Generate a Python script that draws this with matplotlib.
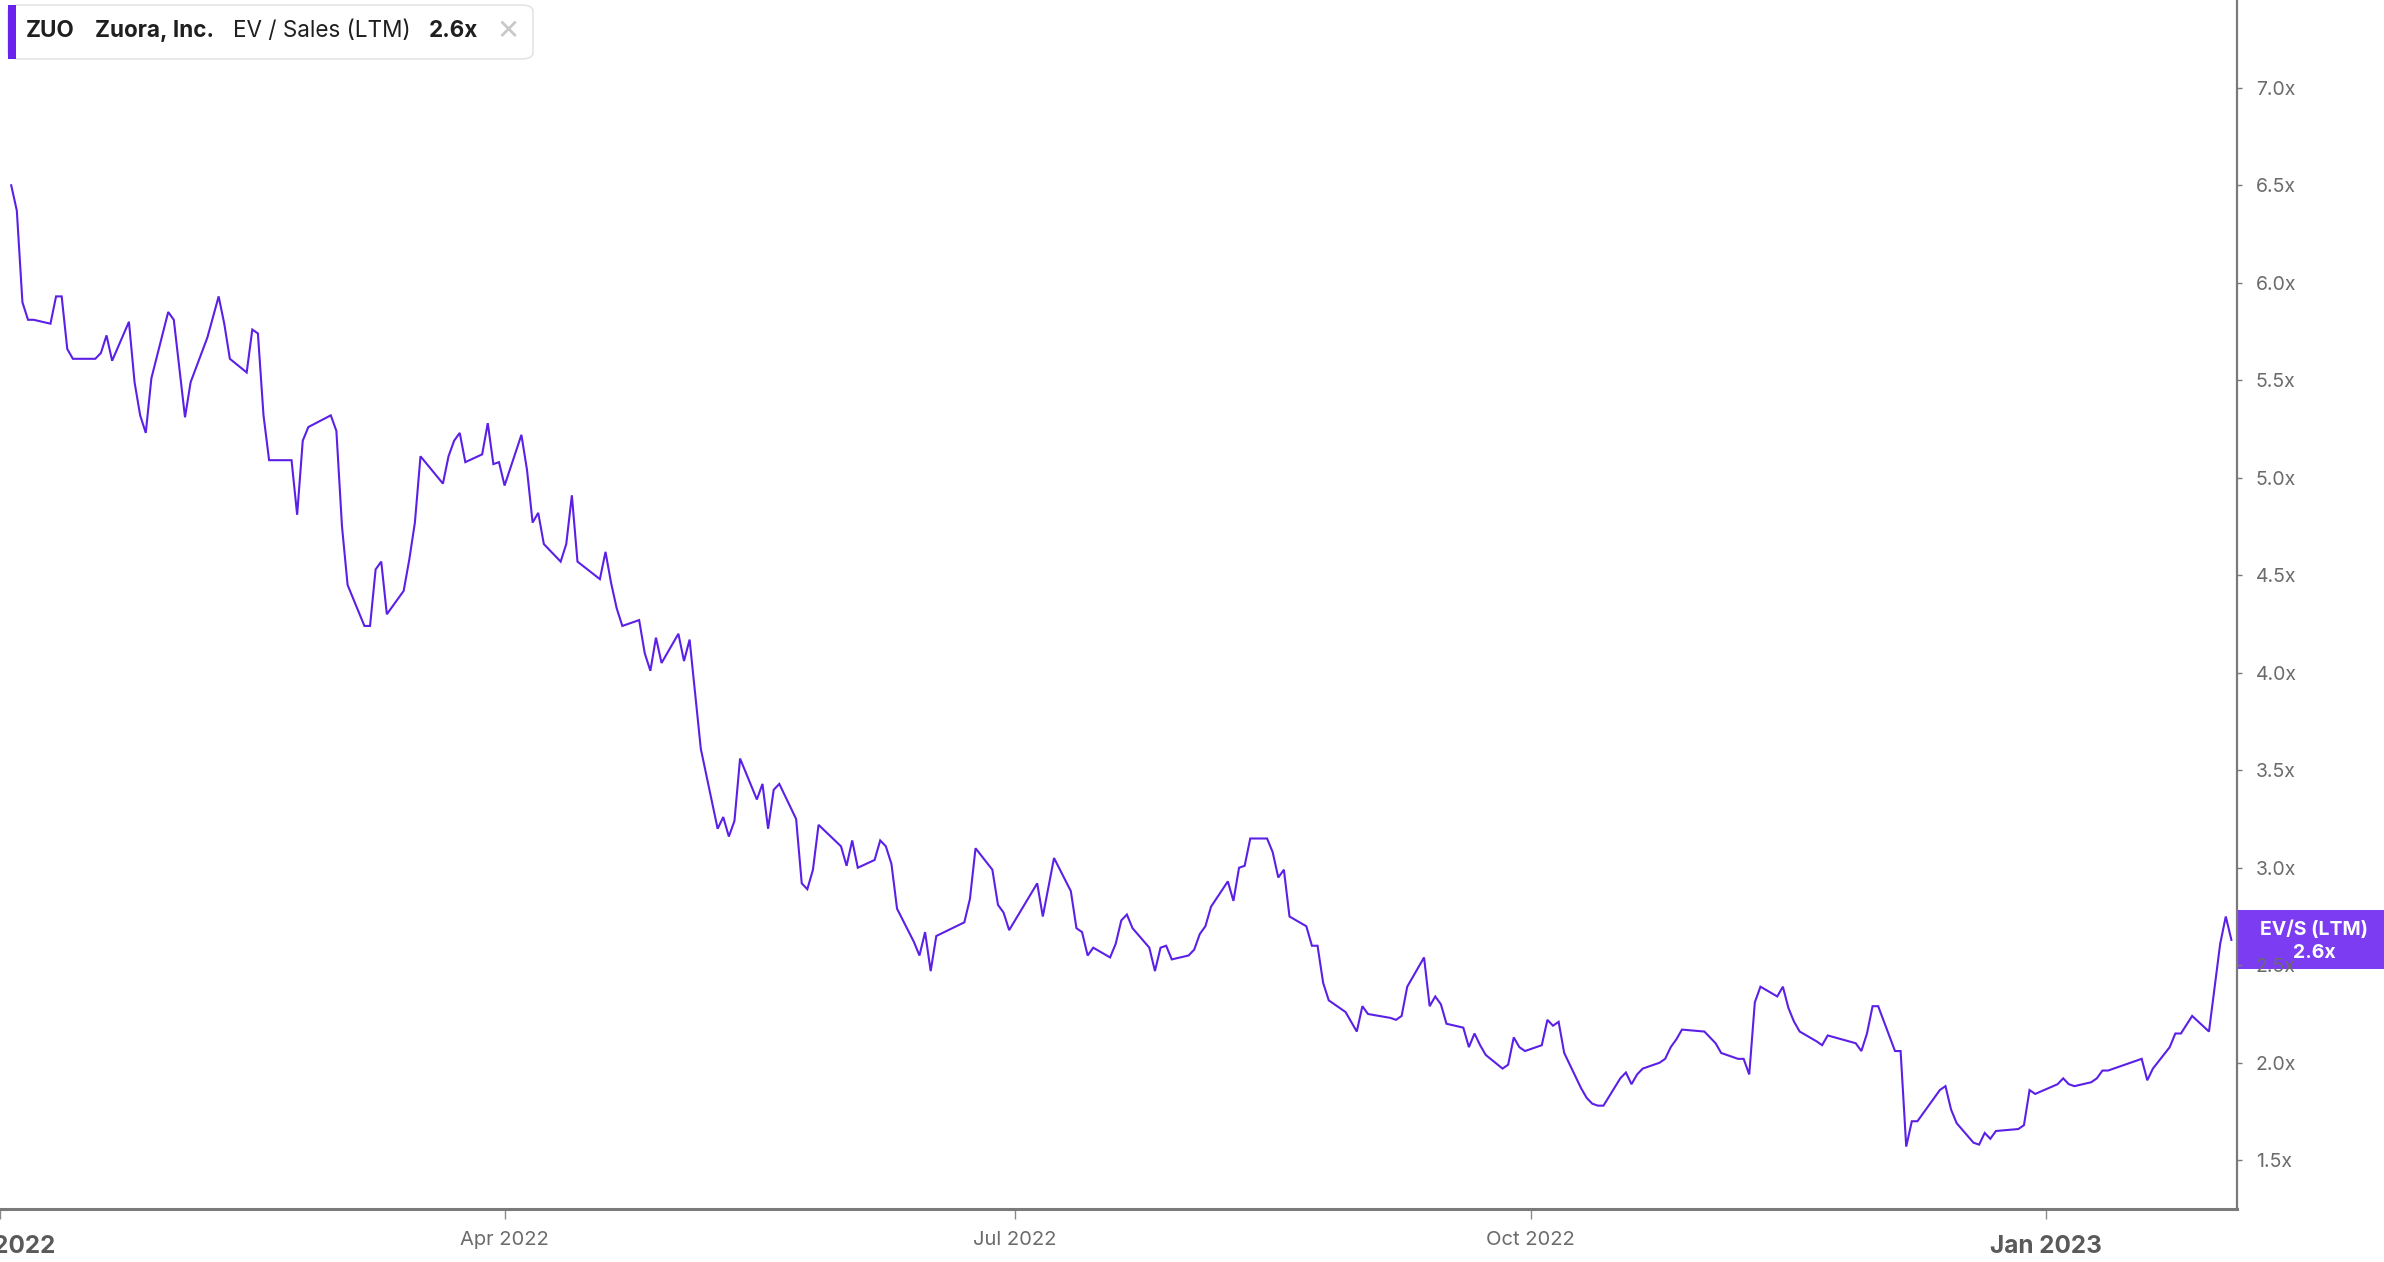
import matplotlib.pyplot as plt
from matplotlib.patches import FancyBboxPatch, Rectangle
from matplotlib.transforms import ScaledTranslation
import pandas as pd

# EV / Sales (LTM) for Zuora
dates = [
    # Jan 2022
    '2022-01-03', '2022-01-04', '2022-01-05', '2022-01-06', '2022-01-07',
    '2022-01-10', '2022-01-11', '2022-01-12', '2022-01-13', '2022-01-14',
    '2022-01-18', '2022-01-19', '2022-01-20', '2022-01-21', '2022-01-24',
    '2022-01-25', '2022-01-26', '2022-01-27', '2022-01-28', '2022-01-31',
    # Feb
    '2022-02-01', '2022-02-03', '2022-02-04', '2022-02-07', '2022-02-09',
    '2022-02-10', '2022-02-11', '2022-02-14', '2022-02-15', '2022-02-16',
    '2022-02-17', '2022-02-18', '2022-02-22', '2022-02-23', '2022-02-24',
    '2022-02-25',
    # Mar
    '2022-03-01', '2022-03-02', '2022-03-03', '2022-03-04', '2022-03-07',
    '2022-03-08', '2022-03-09', '2022-03-10', '2022-03-11', '2022-03-14',
    '2022-03-15', '2022-03-16', '2022-03-17', '2022-03-21', '2022-03-22',
    '2022-03-23', '2022-03-24', '2022-03-25', '2022-03-28', '2022-03-29',
    '2022-03-30', '2022-03-31',
    # Apr
    '2022-04-01', '2022-04-04', '2022-04-05', '2022-04-06', '2022-04-07',
    '2022-04-08', '2022-04-11', '2022-04-12', '2022-04-13', '2022-04-14',
    '2022-04-18', '2022-04-19', '2022-04-20', '2022-04-21', '2022-04-22',
    '2022-04-25', '2022-04-26', '2022-04-27', '2022-04-28', '2022-04-29',
    # May
    '2022-05-02', '2022-05-03', '2022-05-04', '2022-05-06', '2022-05-09',
    '2022-05-10', '2022-05-11', '2022-05-12', '2022-05-13', '2022-05-16',
    '2022-05-17', '2022-05-18', '2022-05-19', '2022-05-20', '2022-05-23',
    '2022-05-24', '2022-05-25', '2022-05-26', '2022-05-27', '2022-05-31',
    # Jun
    '2022-06-01', '2022-06-02', '2022-06-03', '2022-06-06', '2022-06-07',
    '2022-06-08', '2022-06-09', '2022-06-10', '2022-06-13', '2022-06-14',
    '2022-06-15', '2022-06-16', '2022-06-17', '2022-06-22', '2022-06-23',
    '2022-06-24', '2022-06-27', '2022-06-28', '2022-06-29', '2022-06-30',
    # Jul
    '2022-07-05', '2022-07-06', '2022-07-08', '2022-07-11', '2022-07-12',
    '2022-07-13', '2022-07-14', '2022-07-15', '2022-07-18', '2022-07-19',
    '2022-07-20', '2022-07-21', '2022-07-22', '2022-07-25', '2022-07-26',
    '2022-07-27', '2022-07-28', '2022-07-29',
    # Aug
    '2022-08-01', '2022-08-02', '2022-08-03', '2022-08-04', '2022-08-05',
    '2022-08-08', '2022-08-09', '2022-08-10', '2022-08-11', '2022-08-12',
    '2022-08-15', '2022-08-16', '2022-08-17', '2022-08-18', '2022-08-19',
    '2022-08-22', '2022-08-23', '2022-08-24', '2022-08-25', '2022-08-26',
    '2022-08-29', '2022-08-31',
    # Sep
    '2022-09-01', '2022-09-02', '2022-09-06', '2022-09-07', '2022-09-08',
    '2022-09-09', '2022-09-12', '2022-09-13', '2022-09-14', '2022-09-15',
    '2022-09-16', '2022-09-19', '2022-09-20', '2022-09-21', '2022-09-22',
    '2022-09-23', '2022-09-26', '2022-09-27', '2022-09-28', '2022-09-29',
    '2022-09-30',
    # Oct
    '2022-10-03', '2022-10-04', '2022-10-05', '2022-10-06', '2022-10-07',
    '2022-10-10', '2022-10-11', '2022-10-12', '2022-10-13', '2022-10-14',
    '2022-10-17', '2022-10-18', '2022-10-19', '2022-10-20', '2022-10-21',
    '2022-10-24', '2022-10-25', '2022-10-26', '2022-10-27', '2022-10-28',
    # Nov
    '2022-11-01', '2022-11-02', '2022-11-03', '2022-11-04', '2022-11-07',
    '2022-11-08', '2022-11-09', '2022-11-10', '2022-11-11', '2022-11-14',
    '2022-11-15', '2022-11-16', '2022-11-17', '2022-11-18', '2022-11-21',
    '2022-11-22', '2022-11-23', '2022-11-28', '2022-11-29', '2022-11-30',
    # Dec
    '2022-12-01', '2022-12-02', '2022-12-05', '2022-12-06', '2022-12-07',
    '2022-12-08', '2022-12-09', '2022-12-13', '2022-12-14', '2022-12-15',
    '2022-12-16', '2022-12-19', '2022-12-20', '2022-12-21', '2022-12-22',
    '2022-12-23', '2022-12-27', '2022-12-28', '2022-12-29', '2022-12-30',
    # Jan / Feb 2023
    '2023-01-03', '2023-01-04', '2023-01-05', '2023-01-06', '2023-01-09',
    '2023-01-10', '2023-01-11', '2023-01-12', '2023-01-18', '2023-01-19',
    '2023-01-20', '2023-01-23', '2023-01-24', '2023-01-25', '2023-01-27',
    '2023-01-30', '2023-02-01', '2023-02-02', '2023-02-03',
]

ev_sales = [
    # Jan 2022
    6.50, 6.37, 5.90, 5.81, 5.81, 5.79, 5.93, 5.93, 5.66, 5.61,
    5.61, 5.64, 5.73, 5.60, 5.80, 5.49, 5.32, 5.23, 5.51, 5.85,
    # Feb
    5.81, 5.31, 5.49, 5.72, 5.93, 5.79, 5.61, 5.54, 5.76, 5.74,
    5.32, 5.09, 5.09, 4.81, 5.19, 5.26,
    # Mar
    5.32, 5.24, 4.75, 4.45, 4.24, 4.24, 4.53, 4.57, 4.30, 4.42,
    4.58, 4.77, 5.11, 4.97, 5.11, 5.19, 5.23, 5.08, 5.12, 5.28,
    5.07, 5.08,
    # Apr
    4.96, 5.22, 5.04, 4.77, 4.82, 4.66, 4.57, 4.66, 4.91, 4.57,
    4.48, 4.62, 4.46, 4.33, 4.24, 4.27, 4.10, 4.01, 4.18, 4.05,
    # May
    4.20, 4.06, 4.17, 3.61, 3.20, 3.26, 3.16, 3.24, 3.56, 3.35,
    3.43, 3.20, 3.40, 3.43, 3.25, 2.92, 2.89, 2.99, 3.22, 3.11,
    # Jun
    3.01, 3.14, 3.00, 3.04, 3.14, 3.11, 3.02, 2.79, 2.62, 2.55,
    2.67, 2.47, 2.65, 2.72, 2.84, 3.10, 2.99, 2.81, 2.77, 2.68,
    # Jul
    2.92, 2.75, 3.05, 2.88, 2.69, 2.67, 2.55, 2.59, 2.54, 2.61,
    2.73, 2.76, 2.69, 2.59, 2.47, 2.59, 2.60, 2.53,
    # Aug
    2.55, 2.58, 2.66, 2.70, 2.80, 2.93, 2.83, 3.00, 3.01, 3.15,
    3.15, 3.08, 2.95, 2.99, 2.75, 2.70, 2.60, 2.60, 2.41, 2.32,
    2.26, 2.16,
    # Sep
    2.29, 2.25, 2.23, 2.22, 2.24, 2.39, 2.54, 2.29, 2.34, 2.30,
    2.20, 2.18, 2.08, 2.15, 2.09, 2.04, 1.97, 1.99, 2.13, 2.08,
    2.06,
    # Oct
    2.09, 2.22, 2.19, 2.21, 2.05, 1.87, 1.82, 1.79, 1.78, 1.78,
    1.92, 1.95, 1.89, 1.94, 1.97, 2.00, 2.02, 2.08, 2.12, 2.17,
    # Nov
    2.16, 2.13, 2.10, 2.05, 2.02, 2.02, 1.94, 2.31, 2.39, 2.34,
    2.39, 2.28, 2.21, 2.16, 2.11, 2.09, 2.14, 2.10, 2.06, 2.15,
    # Dec
    2.29, 2.29, 2.06, 2.06, 1.57, 1.70, 1.70, 1.86, 1.88, 1.76,
    1.69, 1.59, 1.58, 1.64, 1.61, 1.65, 1.66, 1.68, 1.86, 1.84,
    # Jan / Feb 2023
    1.89, 1.92, 1.89, 1.88, 1.90, 1.92, 1.96, 1.96, 2.02, 1.91,
    1.97, 2.08, 2.15, 2.15, 2.24, 2.16, 2.61, 2.75, 2.63,
]

y_ticks = [1.5, 2.0, 2.5, 3.0, 3.5, 4.0, 4.5, 5.0, 5.5, 6.0, 6.5, 7.0]
x_ticks = ['2022-01-01', '2022-04-01', '2022-07-01', '2022-10-01', '2023-01-01']

LINE = '#5b1fe6'
BADGE = '#7b3cf2'
GREY = '#6b6b6b'
W, H = 2384, 1262


def fig_xy(px, py):
    '''pixel (from top-left) -> figure fraction'''
    return px / W, 1 - py / H


plt.rcParams['font.family'] = ['Inter', 'DejaVu Sans']

fig = plt.figure(figsize=(W / 100, H / 100), dpi=100)
ax = fig.add_axes([0, 0.042, 2237 / W, 0.958])

x = pd.to_datetime(dates)
ax.plot(x, ev_sales, color=LINE, linewidth=1.5, solid_joinstyle='miter')

ax.set_xlim(pd.Timestamp('2022-01-01'), pd.Timestamp('2023-02-04'))
ax.set_ylim(1.25, 7.45)

# Spines
for side in ['left', 'top']:
    ax.spines[side].set_visible(False)
ax.spines['right'].set_color('#7a7a7a')
ax.spines['right'].set_linewidth(1.6)
ax.spines['bottom'].set_color('#7a7a7a')
ax.spines['bottom'].set_linewidth(2.2)

# Y axis on the right
ax.yaxis.tick_right()
ax.set_yticks(y_ticks)
ax.set_yticklabels([f'{v:.1f}x' for v in y_ticks])
ax.tick_params(axis='y', length=3.5, width=1, color='#7a7a7a', pad=10,
               labelsize=14, labelcolor=GREY)

# X axis
tick_pos = pd.to_datetime(x_ticks)
ax.set_xticks(tick_pos)
ax.set_xticklabels([t.strftime('%b %Y') for t in tick_pos])
ax.tick_params(axis='x', length=7, width=1, color='#8a8a8a', pad=9,
               labelsize=14.5, labelcolor=GREY)
for lbl, t in zip(ax.get_xticklabels(), tick_pos):
    if t.month == 1:
        lbl.set_fontweight('bold')
        lbl.set_fontsize(17.5)
        lbl.set_color('#5a5a5a')
        lbl.set_transform(lbl.get_transform() +
                          ScaledTranslation(0, -3 / 72, fig.dpi_scale_trans))

# Legend box at the top left
x0, y0 = fig_xy(8, 59)
x1, y1 = fig_xy(533, 5)
box = FancyBboxPatch((x0, y0), x1 - x0, y1 - y0,
                     boxstyle='round,pad=0,rounding_size=0.005',
                     transform=fig.transFigure, facecolor='white',
                     edgecolor='#e4e4e4', linewidth=1.2, zorder=5)
fig.add_artist(box)
bx0, _ = fig_xy(8, 0)
bx1, _ = fig_xy(16, 0)
bar = Rectangle((bx0, y0), bx1 - bx0, y1 - y0, transform=fig.transFigure,
                facecolor='#6a22ee', edgecolor='none', zorder=6)
fig.add_artist(bar)

_, ty = fig_xy(0, 31)
items = [
    (26, 'ZUO', 'bold'),
    (95, 'Zuora, Inc.', 'bold'),
    (233, 'EV / Sales (LTM)', 'normal'),
    (429, f'{ev_sales[-1]:.1f}x', 'bold'),
]
for px, txt, wt in items:
    fig.text(px / W, ty, txt, ha='left', va='center', fontsize=16.2,
             fontweight=wt, color='#1f1f1f', zorder=7)
fig.text(508 / W, ty, '✕', ha='center', va='center', fontsize=20,
         color='#c8c8c8', family=['DejaVu Sans'], zorder=7)

# Last value badge on the right axis
y_pix = ax.transData.transform((0, ev_sales[-1]))[1]
badge_h = 59
badge = Rectangle((2238 / W, (y_pix - badge_h / 2) / H), (W - 2238) / W,
                  badge_h / H, transform=fig.transFigure, facecolor=BADGE,
                  edgecolor='none', zorder=-1)
fig.add_artist(badge)
fig.text(2314 / W, (y_pix + 10) / H, 'EV/S (LTM)', ha='center',
         va='center', fontsize=14, fontweight='bold', color='white', zorder=8)
fig.text(2314 / W, (y_pix - 13) / H, f'{ev_sales[-1]:.1f}x', ha='center',
         va='center', fontsize=14, fontweight='bold', color='white', zorder=8)

assert len(dates) == len(ev_sales)
fig.savefig('out.png', dpi=100)
